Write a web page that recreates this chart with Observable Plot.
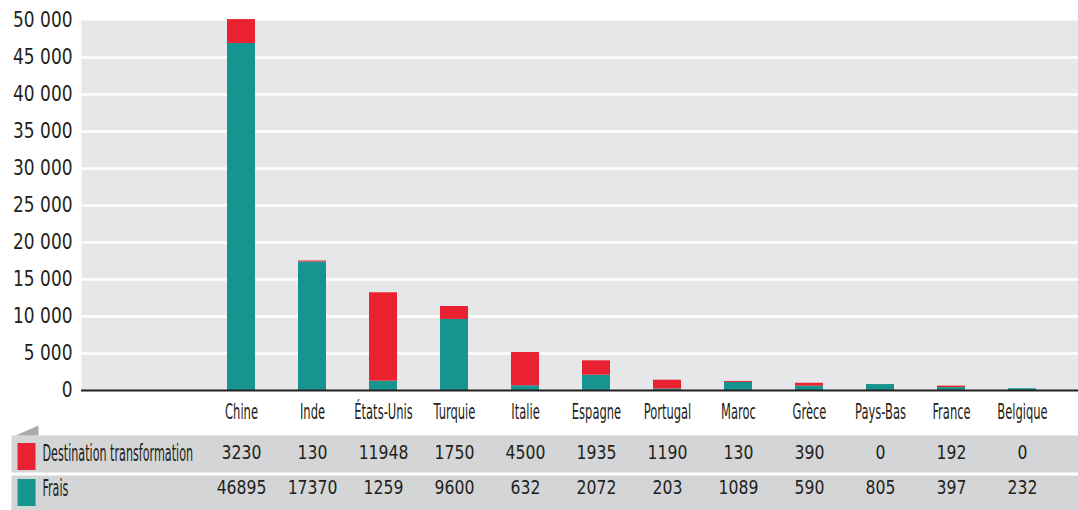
<!DOCTYPE html>
<html>
<head>
<meta charset="utf-8">
<script src="https://cdn.jsdelivr.net/npm/d3@7"></script>
<script src="https://cdn.jsdelivr.net/npm/@observablehq/plot@0.6"></script>
<style>
  html, body { margin: 0; padding: 0; background: #ffffff; }
  #chart { width: 1078px; height: 510px; }
</style>
</head>
<body>
<div id="chart"></div>
<script>
const countries = ["Chine", "Inde", "États-Unis", "Turquie", "Italie", "Espagne", "Portugal", "Maroc", "Grèce", "Pays-Bas", "France", "Belgique"];
const seriesNames = ["Frais", "Destination transformation"];
const frais = [46895, 17370, 1259, 9600, 632, 2072, 203, 1089, 590, 805, 397, 232];
const destination = [3230, 130, 11948, 1750, 4500, 1935, 1190, 130, 390, 0, 192, 0];
const yTicks = [0, 5000, 10000, 15000, 20000, 25000, 30000, 35000, 40000, 45000, 50000];

const TEAL = "#159490";
const RED = "#ea2131";
const INK = "#231f20";
const FONT = "'DejaVu Sans Condensed', 'DejaVu Sans', sans-serif";

const rows = [];
countries.forEach((c, i) => rows.push({country: c, series: "Frais", value: frais[i]}));
countries.forEach((c, i) => rows.push({country: c, series: "Destination transformation", value: destination[i]}));

const fmt = d3.formatLocale({thousands: " ", grouping: [3], decimal: ","}).format(",d");

const rectSymbol = {draw(ctx) { ctx.rect(-9, -13.5, 18, 27); }};
const wedgeSymbol = {draw(ctx) { ctx.moveTo(-12, 5); ctx.lineTo(11, -5); ctx.lineTo(11, 5); ctx.closePath(); }};

const plot = Plot.plot({
  width: 1078,
  height: 510,
  marginTop: 20,
  marginBottom: 120,
  marginLeft: 81,
  marginRight: 0,
  style: {fontFamily: FONT, color: INK, background: "#ffffff", overflow: "visible"},
  x: {domain: countries, range: [202, 1061], paddingInner: 0.6, paddingOuter: 0.3, label: null},
  y: {domain: [0, 50000], label: null},
  color: {domain: seriesNames, range: [TEAL, RED]},
  marks: [
    Plot.frame({fill: "#e6e7e8"}),
    Plot.gridY(yTicks.filter(t => t > 0 && t < 50000), {stroke: "#ffffff", strokeOpacity: 1, strokeWidth: 2.5}),
    Plot.barY(rows, {x: "country", y: "value", fill: "series"}),
    Plot.ruleY([0], {stroke: INK, strokeWidth: 2}),
    Plot.axisY({ticks: yTicks, tickFormat: fmt, tickSize: 0, tickPadding: 9, fontSize: 21, label: null}),
    Plot.axisX({tickSize: 0, tickPadding: 14, fontSize: 21, label: null}),
    // data table backgrounds
    Plot.frame({fill: "#d4d5d6", insetLeft: -70, insetTop: 415, insetBottom: -82}),
    Plot.frame({fill: "#d4d5d6", insetLeft: -70, insetTop: 455, insetBottom: -120}),
    Plot.dot([0], {frameAnchor: "bottom-left", dx: -54, dy: 40, symbol: wedgeSymbol, r: 5, fill: "#a7a9ac", stroke: null}),
    Plot.dot([0], {frameAnchor: "bottom-left", dx: -55, dy: 66, symbol: rectSymbol, r: 5, fill: RED, stroke: null}),
    Plot.dot([0], {frameAnchor: "bottom-left", dx: -55, dy: 102, symbol: rectSymbol, r: 5, fill: TEAL, stroke: null}),
    Plot.text(["Destination transformation"], {frameAnchor: "bottom-left", dx: -39, dy: 70, textAnchor: "start", fontSize: 23, fill: INK, className: "sq-label"}),
    Plot.text(["Frais"], {frameAnchor: "bottom-left", dx: -39, dy: 105, textAnchor: "start", fontSize: 23, fill: INK, className: "sq-label"}),
    Plot.text(countries, {x: d => d, text: (d, i) => String(destination[i]), frameAnchor: "bottom", dy: 68, fontSize: 20, fill: INK, className: "sq-num"}),
    Plot.text(countries, {x: d => d, text: (d, i) => String(frais[i]), frameAnchor: "bottom", dy: 103, fontSize: 20, fill: INK, className: "sq-num"})
  ]
});
document.getElementById("chart").appendChild(plot);

// narrow the lettering horizontally to match the condensed typeface of the original
function squeeze(nodes, k) {
  nodes.each(function() {
    const t = this.getAttribute("transform") || "";
    this.setAttribute("transform", (t + ` scale(${k},1)`).trim());
  });
}
const svg = d3.select(plot);
squeeze(svg.selectAll('g[aria-label="x-axis tick label"] text'), 0.61);
squeeze(svg.selectAll('g[aria-label="y-axis tick label"] text'), 0.9);
squeeze(svg.selectAll('g.sq-label text, .sq-label text'), 0.54);
squeeze(svg.selectAll('g.sq-num text, .sq-num text'), 0.87);
</script>
</body>
</html>
